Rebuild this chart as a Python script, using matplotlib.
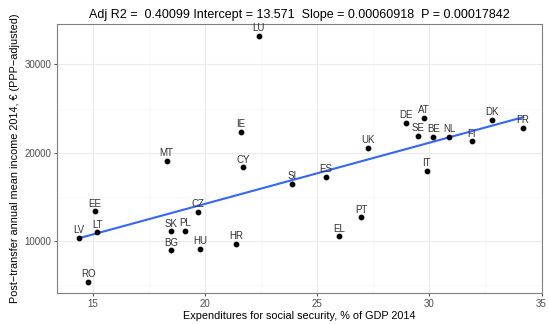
import matplotlib.pyplot as plt
import numpy as np

plt.rcParams['font.family'] = ['Liberation Sans', 'DejaVu Sans']

# country codes, social security spending (% GDP 2014), post-transfer income (EUR PPP)
countries = ['LU', 'IE', 'MT', 'CY', 'SI', 'EE', 'CZ', 'LT', 'LV', 'SK', 'PL', 'BG',
             'HU', 'HR', 'RO', 'ES', 'IT', 'PT', 'EL', 'UK', 'DE', 'AT', 'SE', 'BE',
             'NL', 'FI', 'DK', 'FR']
spending = [22.39, 21.59, 18.29, 21.69, 23.89, 15.10, 19.69, 15.21, 14.40, 18.51, 19.10, 18.51,
            19.80, 21.40, 14.80, 25.40, 29.89, 26.95, 25.99, 27.28, 28.98, 29.77, 29.49, 30.18,
            30.88, 31.89, 32.78, 34.18]
income = [33216, 22379, 19060, 18346, 16490, 13363, 13318, 10985, 10340, 11098, 11132, 8947,
          9094, 9660, 5391, 17248, 17961, 12684, 10532, 20571, 23363, 23930, 21925, 21812,
          21812, 21291, 23737, 22797]

x = np.array(spending)
y = np.array(income)
slope, intercept = np.polyfit(x, y, 1)
xs = np.array([x.min(), x.max()])

fig = plt.figure(figsize=(5.48, 3.24), dpi=100)
ax = fig.add_axes([57 / 548, 1 - 293 / 324, (542 - 57) / 548, (293 - 24) / 324])

ax.plot(xs, intercept + slope * xs, color='#3366FF', lw=1.5, zorder=2)
ax.scatter(x, y, s=10, color='black', zorder=3)
for c, xi, yi in zip(countries, x, y):
    ax.annotate(c, (xi, yi), xytext=(0, 2), textcoords='offset points',
                ha='center', va='bottom', fontsize=7, color='#333333')

ax.set_xticks([15, 20, 25, 30, 35])
ax.set_yticks([10000, 20000, 30000])
ax.set_xticks([12.5, 17.5, 22.5, 27.5, 32.5], minor=True)
ax.set_yticks([5000, 15000, 25000], minor=True)
ax.set_xlim(13.41, 35.02)
ax.set_ylim(4111, 34575)
ax.grid(True, which='major', color='#EBEBEB', lw=0.8)
ax.grid(True, which='minor', color='#F5F5F5', lw=0.5)
ax.set_axisbelow(True)
ax.tick_params(which='major', length=2.5, width=0.6, color='#333333',
               labelsize=7, labelcolor='#4D4D4D', pad=1.5)
ax.tick_params(which='minor', length=0)
for s in ax.spines.values():
    s.set_color('#7F7F7F')
    s.set_linewidth(0.8)

ax.set_xlabel('Expenditures for social security, % of GDP 2014', fontsize=7.8, labelpad=2)
ax.set_ylabel('Post\u2212transfer annual mean income 2014, \u20ac (PPP\u2212adjusted)',
              fontsize=7.8, labelpad=3)
ax.set_title('Adj R2 =  0.40099 Intercept = 13.571  Slope = 0.00060918  P = 0.00017842',
             fontsize=9, pad=4)

fig.savefig('out.png', dpi=100)
